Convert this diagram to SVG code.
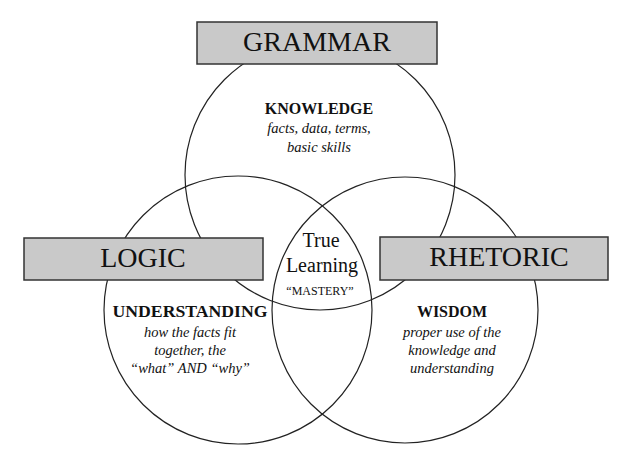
<svg xmlns="http://www.w3.org/2000/svg" width="640" height="458" viewBox="0 0 640 458">
<style>
.c{fill:none;stroke:#222;stroke-width:1.2}
.b{fill:#c9c9c9;stroke:#333;stroke-width:1.5}
.t{font-family:"Liberation Serif","DejaVu Serif",serif;fill:#111;text-anchor:middle}
.h{font-size:28px}
.k{font-size:16px;font-weight:bold}
.i{font-size:14.5px;font-style:italic}
</style>
<rect width="640" height="458" fill="#fff"/>
<g id="connectors"></g>
<g id="circle-grammar"><circle class="c" cx="320" cy="175" r="135"/></g>
<g id="circle-logic"><circle class="c" cx="238" cy="310" r="134"/></g>
<g id="circle-rhetoric"><circle class="c" cx="405" cy="310" r="133"/></g>
<g id="grammar">
<rect class="b" x="197" y="22" width="240" height="42"/>
<text class="t h" x="317" y="51">GRAMMAR</text>
</g>
<g id="logic">
<rect class="b" x="24" y="238" width="239" height="42"/>
<text class="t h" x="143" y="267">LOGIC</text>
</g>
<g id="rhetoric">
<rect class="b" x="380" y="237" width="228" height="43"/>
<text class="t h" x="499" y="266">RHETORIC</text>
</g>
<g id="knowledge">
<text class="t k" x="319" y="114">KNOWLEDGE</text>
<text class="t i" x="319" y="133">facts, data, terms,</text>
<text class="t i" x="319" y="152">basic skills</text>
</g>
<g id="true-learning">
<text class="t" x="321" y="247" font-size="20">True</text>
<text class="t" x="322" y="272" font-size="20">Learning</text>
<text class="t" x="320" y="295" font-size="12">“MASTERY”</text>
</g>
<g id="understanding">
<text class="t k" x="190" y="317" textLength="155" lengthAdjust="spacingAndGlyphs">UNDERSTANDING</text>
<text class="t i" x="190" y="337">how the facts fit</text>
<text class="t i" x="190" y="355">together, the</text>
<text class="t i" x="190" y="373">“what” AND “why”</text>
</g>
<g id="wisdom">
<text class="t k" x="452" y="317">WISDOM</text>
<text class="t i" x="452" y="337">proper use of  the</text>
<text class="t i" x="452" y="355">knowledge and</text>
<text class="t i" x="452" y="373">understanding</text>
</g>
</svg>
